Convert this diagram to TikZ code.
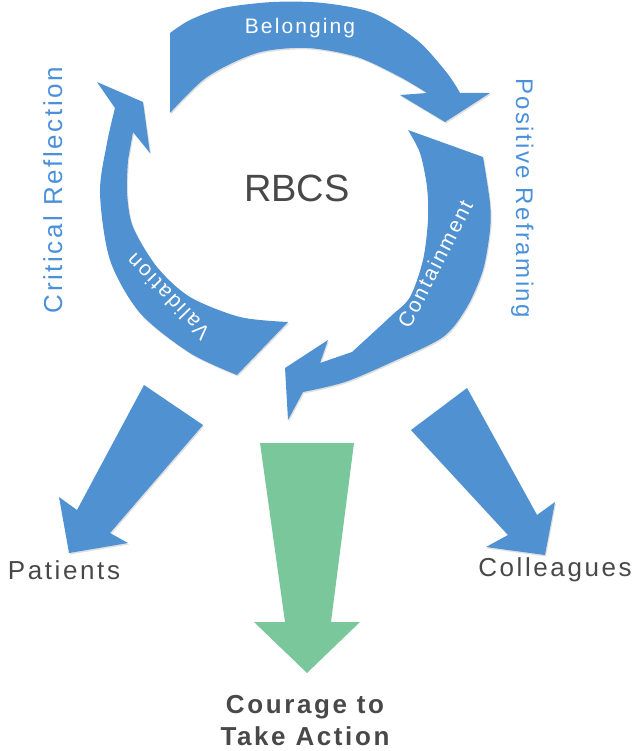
\documentclass[tikz,border=0pt]{standalone}
\usepackage{fontspec}
\setmainfont{Liberation Sans}
\newfontfamily\spacedfont[LetterSpace=10]{Liberation Sans}
\usetikzlibrary{shadows}

\definecolor{loopblue}{HTML}{4F91D1}
\definecolor{labelblue}{HTML}{4A90DA}
\definecolor{actiongreen}{HTML}{7BC79C}
\definecolor{labelgray}{HTML}{484848}

\tikzset{
  bluearrow/.style={fill=loopblue, drop shadow={shadow xshift=1pt, shadow yshift=-1.5pt, opacity=0.25}},
  greenarrow/.style={fill=actiongreen},
  onarrow/.style={text=white, font=\spacedfont\fontsize{21}{21}\selectfont},
  sidetext/.style={text=labelblue, font=\spacedfont\fontsize{24}{24}\selectfont},
  outcome/.style={text=labelgray, font=\spacedfont\fontsize{26}{26}\selectfont},
}

\begin{document}
\begin{tikzpicture}[x=1pt,y=-1pt]
  \useasboundingbox (0,0) rectangle (636,751);

  % the cycle: belonging, containment, validation
  \fill[bluearrow] plot[smooth] coordinates {(170,33) (190,20) (223,8) (273,2) (323,3) (373,13) (417,40) (447,73) (460,93)}
    -- (490,93) -- (445,122) -- (400,95)
    -- plot[smooth] coordinates {(427,93) (400,77) (357,57) (307,48) (257,53) (207,77) (170,113)} -- cycle;

  \fill[bluearrow] (408,130) -- plot[smooth] coordinates {(483,157) (490,203) (490,230) (483,270) (467,307) (443,337) (392,362) (345,382) (303,392)}
    -- (288,420) -- (285,368) -- (328,340) -- (320,363)
    -- plot[smooth] coordinates {(352,352) (390,317) (410,297) (423,260) (428,220) (427,187) (420,153) (408,130)} -- cycle;

  \fill[bluearrow] (288,322) -- plot[smooth] coordinates {(237,375) (190,353) (140,313) (110,260) (100,193) (107,143) (115,108)}
    -- (97,82) -- (143,102) -- (150,153) -- (133,132)
    -- plot[smooth] coordinates {(128,160) (127,193) (133,227) (157,267) (190,297) (240,317) (288,322)} -- cycle;

  % outgoing arrows
  \fill[bluearrow] (144,385) -- (203,425) -- (110,533) -- (128,543) -- (69,553) -- (59,497) -- (77,510) -- cycle;
  \fill[bluearrow] (467,388) -- (537,515) -- (555,502) -- (545,555) -- (486,547) -- (508,535) -- (411,430) -- cycle;
  \fill[greenarrow] (260,443) -- (354,443) -- (331,622) -- (360,622) -- (307,673) -- (254,622) -- (285,622) -- cycle;

  % labels
  \node[onarrow, anchor=base] (belong) at (300,34) {Belonging};
  \node[onarrow, rotate=63] (contain) at (435,264) {Containment};
  \node[onarrow, rotate=134] (valid) at (168,297) {Validation};

  \node[text=labelgray, font=\fontsize{38}{38}\selectfont, anchor=base] (rbcs) at (297,202) {RBCS};

  \node[sidetext, font=\spacedfont\fontsize{26}{26}\selectfont, anchor=base, rotate=90] (crit) at (62,190) {Critical Reflection};
  \node[sidetext, anchor=base, rotate=-90] (posit) at (516,198) {Positive Reframing};

  \node[outcome] (patients) at (64,570) {Patients};
  \node[outcome] (colleagues) at (555,570) {Colleagues};
  \node[outcome, font=\spacedfont\bfseries\fontsize{26}{32}\selectfont, align=center] (courage) at (305,721) {Courage to\\Take Action};
\end{tikzpicture}
\end{document}
